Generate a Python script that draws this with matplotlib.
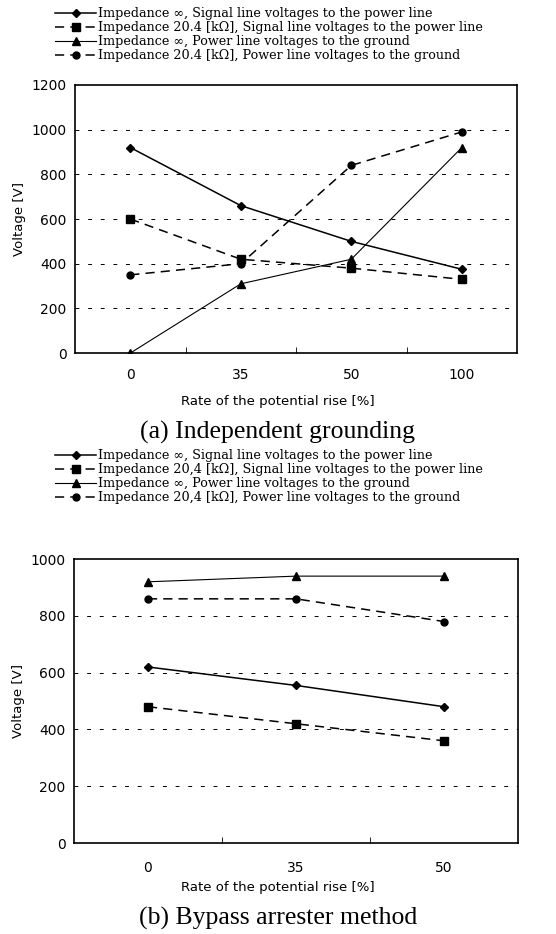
import matplotlib.pyplot as plt

# panel (a) independent grounding
cats_a = ["0", "35", "50", "100"]
sig_inf_a = [920, 660, 500, 375]
sig_imp_a = [600, 420, 380, 330]
pow_inf_a = [0, 310, 420, 920]
pow_imp_a = [350, 400, 840, 990]

# panel (b) bypass arrester method
cats_b = ["0", "35", "50"]
sig_inf_b = [620, 555, 480]
sig_imp_b = [480, 420, 360]
pow_inf_b = [920, 940, 940]
pow_imp_b = [860, 860, 780]

labels_a = ["Impedance \u221e, Signal line voltages to the power line",
            "Impedance 20.4 [k\u03a9], Signal line voltages to the power line",
            "Impedance \u221e, Power line voltages to the ground",
            "Impedance 20.4 [k\u03a9], Power line voltages to the ground"]
labels_b = [s.replace("20.4", "20,4") for s in labels_a]

serif = "DejaVu Serif"
cap_font = "Liberation Serif"
sans = "DejaVu Sans"

fig = plt.figure(figsize=(5.56, 9.34), dpi=100)


def panel(rect, cats, series, labels, ymax, gridmax, caption, leg_y, cap_y, xl_y, xpad):
    ax = fig.add_axes(rect)
    x = list(range(len(cats)))
    styles = [dict(ls="-", marker="D", ms=4, lw=1.1),
              dict(ls=(0, (6, 4)), marker="s", ms=5.5, lw=1.1),
              dict(ls="-", marker="^", ms=5.5, lw=0.8),
              dict(ls=(0, (6, 4)), marker="o", ms=5, lw=1.1)]
    handles = []
    for y, st, lab in zip(series, styles, labels):
        h, = ax.plot(x, y, color="black", label=lab, **st)
        handles.append(h)
    ax.set_xlim(-0.5, len(cats) - 0.5)
    ax.set_ylim(0, ymax)
    ax.set_xticks(x)
    ax.set_xticklabels(cats, fontsize=10, family=sans)
    ax.set_xticks([i + 0.5 for i in x[:-1]], minor=True)
    ax.tick_params(axis="x", which="major", length=0, pad=xpad)
    ax.tick_params(axis="x", which="minor", direction="in", length=4)
    ax.set_yticks(range(0, ymax + 1, 200))
    ax.tick_params(axis="y", length=0, labelsize=10, pad=6)
    for lab in ax.get_yticklabels():
        lab.set_family(sans)
    for g in range(200, gridmax + 1, 200):
        ax.axhline(g, color="black", ls=(0, (4, 9)), lw=0.7, zorder=0)
    for sp in ax.spines.values():
        sp.set_linewidth(1.2)
    ax.set_ylabel("Voltage [V]", fontsize=9.5, family=sans, labelpad=4)
    fig.text(0.5, xl_y, "Rate of the potential rise [%]", ha="center", va="center",
             fontsize=9.5, family=sans)
    fig.text(0.5, cap_y, caption, ha="center", va="center", fontsize=18.5, family=cap_font)
    fig.legend(handles=handles, loc="upper left", bbox_to_anchor=(0.088, leg_y),
               frameon=False, prop={"family": serif, "size": 9.2},
               handlelength=3.2, handletextpad=0.15, labelspacing=0.08, borderpad=0)
    return ax


panel([0.135, 0.622, 0.795, 0.287], cats_a,
      [sig_inf_a, sig_imp_a, pow_inf_a, pow_imp_a], labels_a,
      1200, 1000, "(a) Independent grounding", 0.999,
      1 - 432 / 934, 1 - 402 / 934, 11)

panel([0.133, 0.0974, 0.799, 0.304], cats_b,
      [sig_inf_b, sig_imp_b, pow_inf_b, pow_imp_b], labels_b,
      1000, 800, "(b) Bypass arrester method", 1 - 443 / 934,
      1 - 918 / 934, 1 - 888 / 934, 13)

fig.savefig("out.png", dpi=100)
